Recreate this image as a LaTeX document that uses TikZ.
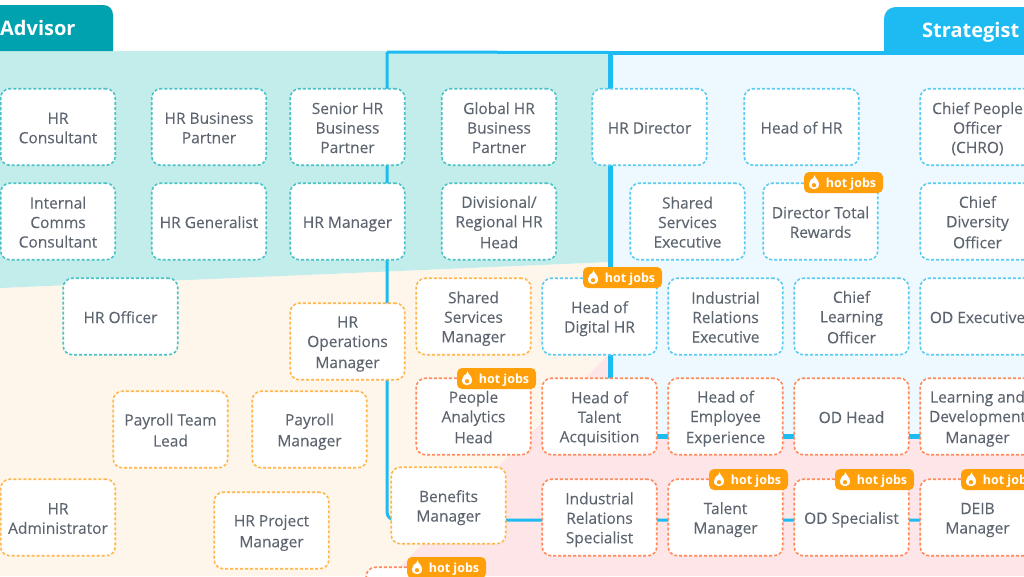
\documentclass[tikz,border=0pt]{standalone}
\usepackage{fontspec}
\setmainfont{Open Sans}
\newfontfamily\jobfont{Open Sans}[FakeBold=0.12]
\definecolor{tealbg}{HTML}{C3EDEA}
\definecolor{bluebg}{HTML}{EDF9FE}
\definecolor{peachbg}{HTML}{FFF6EB}
\definecolor{pinkbg}{HTML}{FEE6E8}
\definecolor{tealtab}{HTML}{00A2AF}
\definecolor{bluetab}{HTML}{1DBBF2}
\definecolor{tealdash}{HTML}{4AC2C7}
\definecolor{bluedash}{HTML}{5CCBF2}
\definecolor{orangedash}{HTML}{FFB74D}
\definecolor{coraldash}{HTML}{FF8A5C}
\definecolor{badgeorange}{HTML}{FF9F0A}
\definecolor{jobtext}{HTML}{5D6570}
\newcommand{\jobstrut}{\rule[-3.25pt]{0pt}{19.5pt}}
\newcommand{\jt}[1]{\jobstrut #1\jobstrut}
\newcommand{\badgestrut}{\rule[-2pt]{0pt}{14pt}}
\tikzset{
  jobbox/.style={draw=#1, fill=white, line width=1.6pt, dash pattern=on 3pt off 2pt,
    rounded corners=9pt, minimum width=114.5pt, minimum height=76.5pt, inner sep=0pt,
    align=center, text=jobtext, font=\fontsize{15.5}{19.5}\selectfont\jobfont},
  tj/.style={jobbox=tealdash}, bj/.style={jobbox=bluedash},
  oj/.style={jobbox=orangedash}, cj/.style={jobbox=coraldash},
  badgebox/.style={fill=badgeorange, rounded corners=5pt, minimum width=79pt, minimum height=21pt,
    inner sep=0pt, text=white, font=\fontsize{12.5}{14}\selectfont\bfseries},
  tablabel/.style={text=white, inner sep=0pt, font=\fontsize{20}{24}\selectfont\bfseries},
  thinlink/.style={draw=bluetab, line width=3pt},
  thicklink/.style={draw=bluetab, line width=5pt},
}
\newcommand{\hotbadge}[3]{%
  \node[badgebox] (#1) at (#2,#3) {\badgestrut\hspace*{15pt}hot jobs};
  \begin{scope}[shift={(#2-29.5,#3)}, scale=1.12]
  \fill[white] (0.5,-6.5) .. controls (1,-3.5) and (4.5,-2) .. (4.5,1.5)
     .. controls (4.5,4.5) and (2.2,6) .. (0,6) .. controls (-2.2,6) and (-4.5,4.5) .. (-4.5,1.5)
     .. controls (-4.5,-0.5) and (-3,-1.5) .. (-2.5,-3) .. controls (-1.5,-2.5) and (-0.5,-4) .. cycle;
  \fill[badgeorange] (0,2.4) circle (1.9);
  \end{scope}
}
\begin{document}
\begin{tikzpicture}[x=1pt,y=-1pt]
\clip (0,0) rectangle (1024,576);
\fill[white] (0,0) rectangle (1024,576);
% regions
\fill[peachbg] (0,288) -- (610,262) -- (610,576) -- (0,576) -- cycle;
\fill[pinkbg] (610,353) -- (391,576) -- (1024,576) -- (1024,436) -- (610,436) -- cycle;
\fill[bluebg] (610,51) rectangle (1024,436);
\fill[tealbg] (0,51) -- (610,51) -- (610,262) -- (0,288) -- cycle;
% tabs
\fill[tealtab] (0,5) -- (103,5) .. controls (109,5) and (113,9) .. (113,15) -- (113,51) -- (0,51) -- cycle;
\fill[bluetab] (1024,7) -- (896,7) .. controls (889,7) and (884,12) .. (884,19) -- (884,53) -- (1024,53) -- cycle;
\node[tablabel, anchor=base west] (advisor) at (0,35) {Advisor};
\node[tablabel, anchor=base west] (strategist) at (922,37) {Strategist};
% connectors
\coordinate (topl) at (387,52);
\coordinate (topm) at (610,52.5);
\coordinate (topr) at (1024,52.5);
\coordinate (thinr) at (1024,520);
\coordinate (bend) at (610,436);
\coordinate (thickr) at (1024,436);
\draw[thinlink] (topl) -- (topm);
\draw[draw=bluetab, line width=4pt] (topm) -- (topr);
\draw[thinlink, rounded corners=8pt] (topl) |- (thinr);
\draw[thicklink] (topm) -- (bend) -- (thickr);
% advisor
\node[tj] (hrcons) at (58,127) {\jt{HR\\Consultant}};
\node[tj] (hrbp) at (209,127) {\jt{HR Business\\Partner}};
\node[tj] (srbp) at (347.5,127) {\jt{Senior HR\\Business\\Partner}};
\node[tj] (glbp) at (499,127) {\jt{Global HR\\Business\\Partner}};
\node[tj] (intcomms) at (58,221.5) {\jt{Internal\\Comms\\Consultant}};
\node[tj] (hrgen) at (209,221.5) {\jt{HR Generalist}};
\node[tj] (hrmgr) at (347.5,221.5) {\jt{HR Manager}};
\node[tj] (divhead) at (499,221.5) {\jt{Divisional/\\Regional HR\\Head}};
\node[tj] (hroff) at (120.5,316.5) {\jt{HR Officer}};
% strategist
\node[bj] (hrdir) at (649.5,127) {\jt{HR Director}};
\node[bj] (headhr) at (801.5,127) {\jt{Head of HR}};
\node[bj] (chro) at (977.5,127) {\jt{Chief People\\Officer\\(CHRO)}};
\node[bj] (ssexec) at (687.5,221.5) {\jt{Shared\\Services\\Executive}};
\node[bj] (dirtr) at (820.5,221.5) {\jt{Director Total\\Rewards}};
\node[bj] (cdo) at (977.5,221.5) {\jt{Chief\\Diversity\\Officer}};
\node[bj] (digital) at (599.5,316.5) {\jt{Head of\\Digital HR}};
\node[bj] (irexec) at (725.5,316.5) {\jt{Industrial\\Relations\\Executive}};
\node[bj] (clo) at (851.5,316.5) {\jt{Chief\\Learning\\Officer}};
\node[bj] (odexec) at (977.5,316.5) {\jt{OD Executive}};
% peach
\node[oj] (ssmgr) at (473.5,316.5) {\jt{Shared\\Services\\Manager}};
\node[oj] (opsmgr) at (347.5,341.5) {\jt{HR\\Operations\\Manager}};
\node[oj] (paylead) at (170.5,429.5) {\jt{Payroll Team\\Lead}};
\node[oj] (paymgr) at (309.5,429.5) {\jt{Payroll\\Manager}};
\node[oj] (hradmin) at (58,517.5) {\jt{HR\\Administrator}};
\node[oj] (hrproj) at (271.5,530.5) {\jt{HR Project\\Manager}};
\node[oj] (benefits) at (448.5,505.5) {\jt{Benefits\\Manager}};
% pink
\node[cj] (analytics) at (473.5,416.5) {\jt{People\\Analytics\\Head}};
\node[cj] (talacq) at (599.5,416.5) {\jt{Head of\\Talent\\Acquisition}};
\node[cj] (empexp) at (725.5,416.5) {\jt{Head of\\Employee\\Experience}};
\node[cj] (odhead) at (851.5,416.5) {\jt{OD Head}};
\node[cj] (ldmgr) at (977.5,416.5) {\jt{Learning and\\Development\\Manager}};
\node[cj] (irspec) at (599.5,517.5) {\jt{Industrial\\Relations\\Specialist}};
\node[cj] (talmgr) at (725.5,517.5) {\jt{Talent\\Manager}};
\node[cj] (odspec) at (851.5,517.5) {\jt{OD Specialist}};
\node[cj] (deib) at (977.5,517.5) {\jt{DEIB\\Manager}};
\node[cj] (bottombox) at (423.5,605.5) {};
% badges
\hotbadge{b1}{843.5}{182.5}
\hotbadge{b2}{622.5}{277.5}
\hotbadge{b3}{496.5}{378.5}
\hotbadge{b4}{748.5}{479.5}
\hotbadge{b5}{874.5}{479.5}
\hotbadge{b6}{1000.5}{479.5}
\hotbadge{b7}{446.5}{567.5}
\end{tikzpicture}
\end{document}
